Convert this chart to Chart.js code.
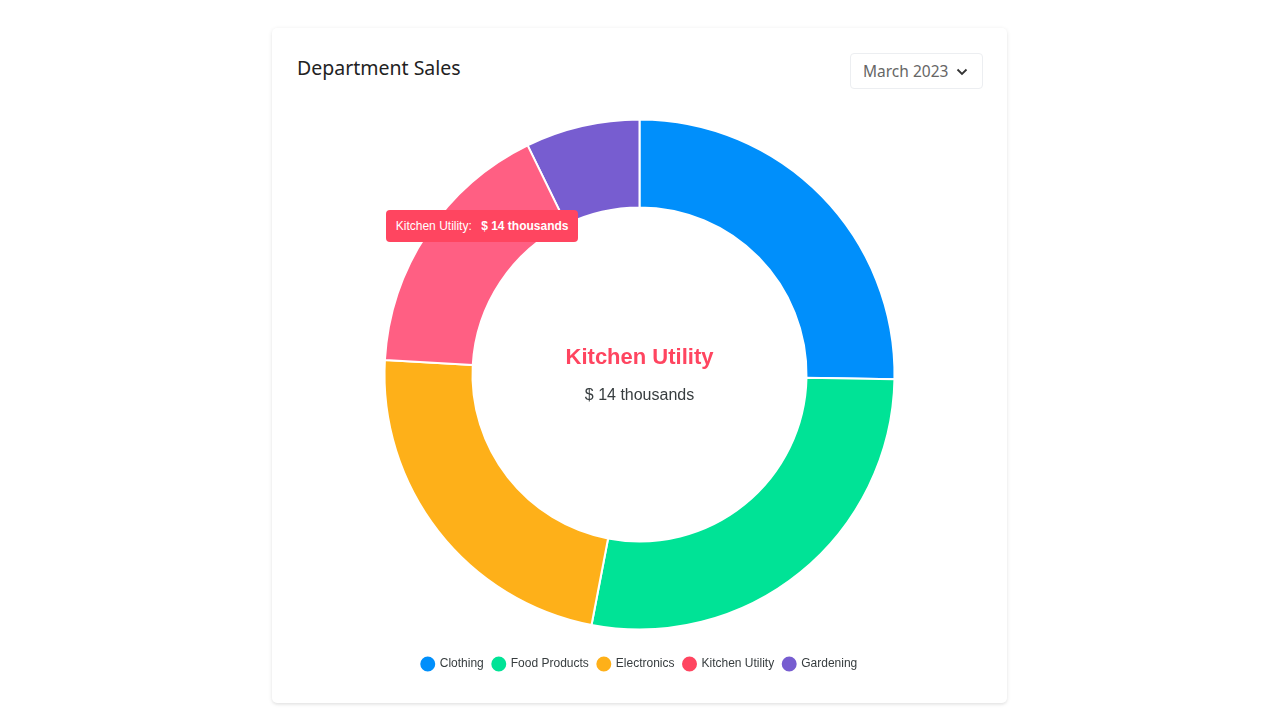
<!DOCTYPE html>
<html>
<head>
<meta charset="utf-8">
<script src="https://cdn.jsdelivr.net/npm/chart.js@4.4.0/dist/chart.umd.min.js"></script>
<style>
  html, body { margin: 0; padding: 0; background: #fff; }
  body { width: 1280px; height: 720px; position: relative; overflow: hidden; }
  .card {
    position: absolute; left: 272px; top: 28px; width: 735px; height: 675px;
    background: #fff; border-radius: 5px;
    box-shadow: 0 1px 4px rgba(0,0,0,0.10), 0 2px 2px rgba(0,0,0,0.03);
  }
  .title {
    position: absolute; left: 25px; top: 26px;
    font-family: "Noto Sans", sans-serif; font-size: 19.5px; color: #222;
  }
  .select {
    position: absolute; left: 578px; top: 25px; width: 133px; height: 36px;
    border: 1px solid #eceef1; border-radius: 4px; box-sizing: border-box;
    font-family: "Noto Sans", sans-serif; font-size: 15.5px; color: #666;
    line-height: 35px; padding-left: 12px;
  }
  .select svg { position: absolute; right: 14px; top: 14px; }
  .chart-box { position: absolute; left: 0; top: 72px; width: 735px; height: 590px; }
  #tip {
    position: absolute; display: none; background: #ff4560; color: #fff;
    border-radius: 4px; font-family: "Liberation Sans", Arial, sans-serif;
    font-size: 12px; padding: 0 10px; height: 32px; line-height: 32px; white-space: nowrap;
  }
  #tip b { margin-left: 6px; }
</style>
</head>
<body>
<div class="card">
  <div class="title">Department Sales</div>
  <div class="select">March 2023
    <svg width="12" height="8" viewBox="0 0 12 8"><path d="M1.5 1.5 L6 6 L10.5 1.5" fill="none" stroke="#333" stroke-width="1.8"/></svg>
  </div>
  <div class="chart-box"><canvas id="chart"></canvas></div>
  <div id="tip"></div>
</div>
<script>
const categories = ["Clothing", "Food Products", "Electronics", "Kitchen Utility", "Gardening"];
const sales = [21, 23, 19, 14, 6];
const colors = ["#008ffb", "#00e396", "#feb019", "#ff4560", "#775dd0"];
const hoverColors = ["#1a9bfc", "#1ae6a1", "#feb830", "#ff5f83", "#8570d5"];
const activeIndex = 3;

const centerText = {
  id: "centerText",
  afterDraw(chart) {
    const { ctx, chartArea } = chart;
    const cx = (chartArea.left + chartArea.right) / 2;
    const cy = (chartArea.top + chartArea.bottom) / 2;
    ctx.save();
    ctx.textAlign = "center";
    ctx.textBaseline = "middle";
    ctx.fillStyle = colors[activeIndex];
    ctx.font = "bold 22px 'Liberation Sans', Arial, sans-serif";
    ctx.fillText(categories[activeIndex], cx, cy - 17);
    ctx.fillStyle = "#373d3f";
    ctx.font = "16px 'Liberation Sans', Arial, sans-serif";
    ctx.fillText("$ " + sales[activeIndex] + " thousands", cx, cy + 21);
    ctx.restore();
  }
};

function externalTip(context) {
  const tip = document.getElementById("tip");
  const model = context.tooltip;
  if (model.opacity === 0 || !model.dataPoints || !model.dataPoints.length) {
    tip.style.display = "none";
    return;
  }
  const dp = model.dataPoints[0];
  tip.innerHTML = dp.label + ": <b>$ " + dp.raw + " thousands</b>";
  tip.style.display = "block";
  const canvas = context.chart.canvas;
  tip.style.left = (canvas.parentNode.offsetLeft + model.caretX - 78) + "px";
  tip.style.top = (canvas.parentNode.offsetTop + model.caretY - 48) + "px";
}

const chart = new Chart(document.getElementById("chart"), {
  type: "doughnut",
  data: {
    labels: categories,
    datasets: [{
      data: sales,
      backgroundColor: colors,
      hoverBackgroundColor: hoverColors,
      borderColor: "#fff",
      hoverBorderColor: "#fff",
      borderWidth: 2,
      hoverOffset: 0
    }]
  },
  options: {
    responsive: true,
    maintainAspectRatio: false,
    animation: false,
    radius: 255,
    cutout: "65.5%",
    layout: { padding: { bottom: 10 } },
    plugins: {
      legend: {
        position: "bottom",
        labels: {
          usePointStyle: true,
          pointStyle: "circle",
          boxWidth: 12,
          boxHeight: 12,
          padding: 9,
          color: "#373d3f",
          font: { family: "'Liberation Sans', Arial, sans-serif", size: 12 }
        }
      },
      tooltip: { enabled: false, external: externalTip }
    }
  },
  plugins: [centerText]
});

const active = [{ datasetIndex: 0, index: activeIndex }];
chart.setActiveElements(active);
chart.tooltip.setActiveElements(active, { x: 0, y: 0 });
chart.update();
</script>
</body>
</html>
